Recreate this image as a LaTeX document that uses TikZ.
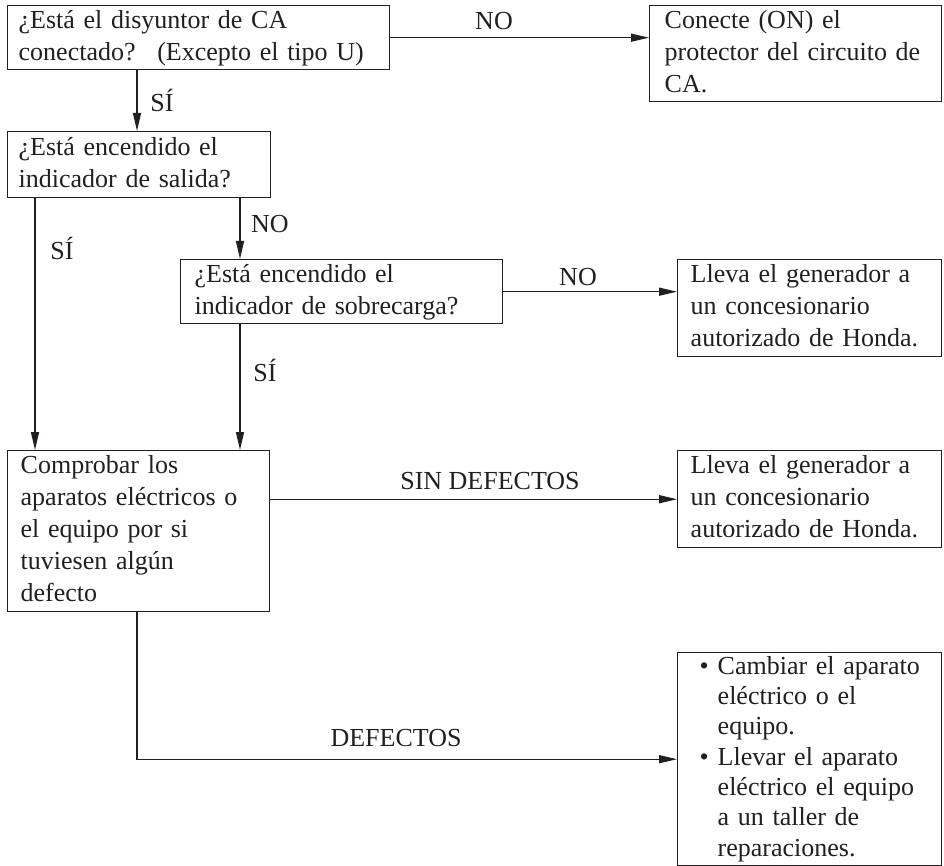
\documentclass[tikz,border=0pt]{standalone}
\usepackage{fontspec}
\setmainfont{Liberation Serif}
\usetikzlibrary{arrows.meta}
\definecolor{ink}{RGB}{35,31,32}
\newcommand\bul{\makebox[18pt][l]{\textbullet}}
\newcommand\ind{\hspace*{18pt}}
\newcommand\lines[1]{\begin{tabular}{@{}l@{}}#1\end{tabular}}
\tikzset{
  txt/.style={font=\fontsize{26}{32}\selectfont, text=ink},
  box/.style={txt, draw=ink, line width=1.4pt, anchor=north west, align=left, inner ysep=0pt},
  arr/.style={draw=ink, line width=1.4pt, -{Triangle[length=18pt,width=8pt]}},
  lbl/.style={txt, inner sep=0pt}
}
\begin{document}
\begin{tikzpicture}[x=1pt,y=-1pt]
\useasboundingbox (0,0) rectangle (944,866);
\node[box, minimum width=382pt, minimum height=64pt, inner xsep=11pt, text width=360pt] (B1) at (7,5)
  {\lines{¿Está el disyuntor de CA\\conectado?~ (Excepto el tipo U)}};
\node[box, minimum width=292pt, minimum height=96pt, inner xsep=15pt, text width=262pt] (B2) at (649,5)
  {\lines{Conecte (ON) el\\protector del circuito de\\CA.}};
\node[box, minimum width=263pt, minimum height=66pt, inner xsep=11pt, text width=241pt] (B3) at (7,131)
  {\lines{¿Está encendido el\\indicador de salida?}};
\node[box, minimum width=322pt, minimum height=64pt, inner xsep=14pt, text width=294pt] (B4) at (180,259)
  {\lines{¿Está encendido el\\indicador de sobrecarga?}};
\node[box, minimum width=264pt, minimum height=97pt, inner xsep=13pt, text width=238pt] (B5) at (677,259)
  {\lines{Lleva el generador a\\un concesionario\\autorizado de Honda.}};
\node[box, minimum width=262pt, minimum height=161pt, inner xsep=13pt, text width=236pt] (B6) at (7,450)
  {\lines{Comprobar los\\aparatos eléctricos o\\el equipo por si\\tuviesen algún\\defecto}};
\node[box, minimum width=264pt, minimum height=97pt, inner xsep=13pt, text width=238pt] (B7) at (677,450)
  {\lines{Lleva el generador a\\un concesionario\\autorizado de Honda.}};
\node[box, font=\fontsize{26}{30.3}\selectfont, minimum width=264pt, minimum height=213pt, inner xsep=22pt, text width=220pt] (B8) at (677,652)
  {\lines{\bul Cambiar el aparato\\\ind eléctrico o el\\\ind equipo.\\\bul Llevar el aparato\\\ind eléctrico el equipo\\\ind a un taller de\\\ind reparaciones.}};
% connectors
\draw[arr] (B1.east) -- (B1.east -| B2.west);
\draw[arr] ([xshift=130pt]B1.south west) -- ([xshift=130pt]B1.south west |- B3.north);
\draw[arr] ([xshift=28pt]B3.south west) -- ([xshift=28pt]B3.south west |- B6.north);
\draw[arr] ([xshift=233pt]B3.south west) -- ([xshift=233pt]B3.south west |- B4.north);
\draw[arr] (B4.east) -- (B4.east -| B5.west);
\draw[arr] ([xshift=60pt]B4.south west) -- ([xshift=60pt]B4.south west |- B6.north);
\draw[arr] (B6.east |- B7.west) -- (B7.west);
\draw[arr] ([xshift=130pt]B6.south west) |- (B8.west);
% labels
\node[lbl] (L1) at (494,21) {NO};
\node[lbl] (L2) at (162,100) {SÍ};
\node[lbl] (L3) at (62,248) {SÍ};
\node[lbl] (L4) at (270,224) {NO};
\node[lbl] (L5) at (578,277) {NO};
\node[lbl] (L6) at (265,370) {SÍ};
\node[lbl] (L7) at (490,481) {SIN DEFECTOS};
\node[lbl] (L8) at (396,738) {DEFECTOS};
\end{tikzpicture}
\end{document}
